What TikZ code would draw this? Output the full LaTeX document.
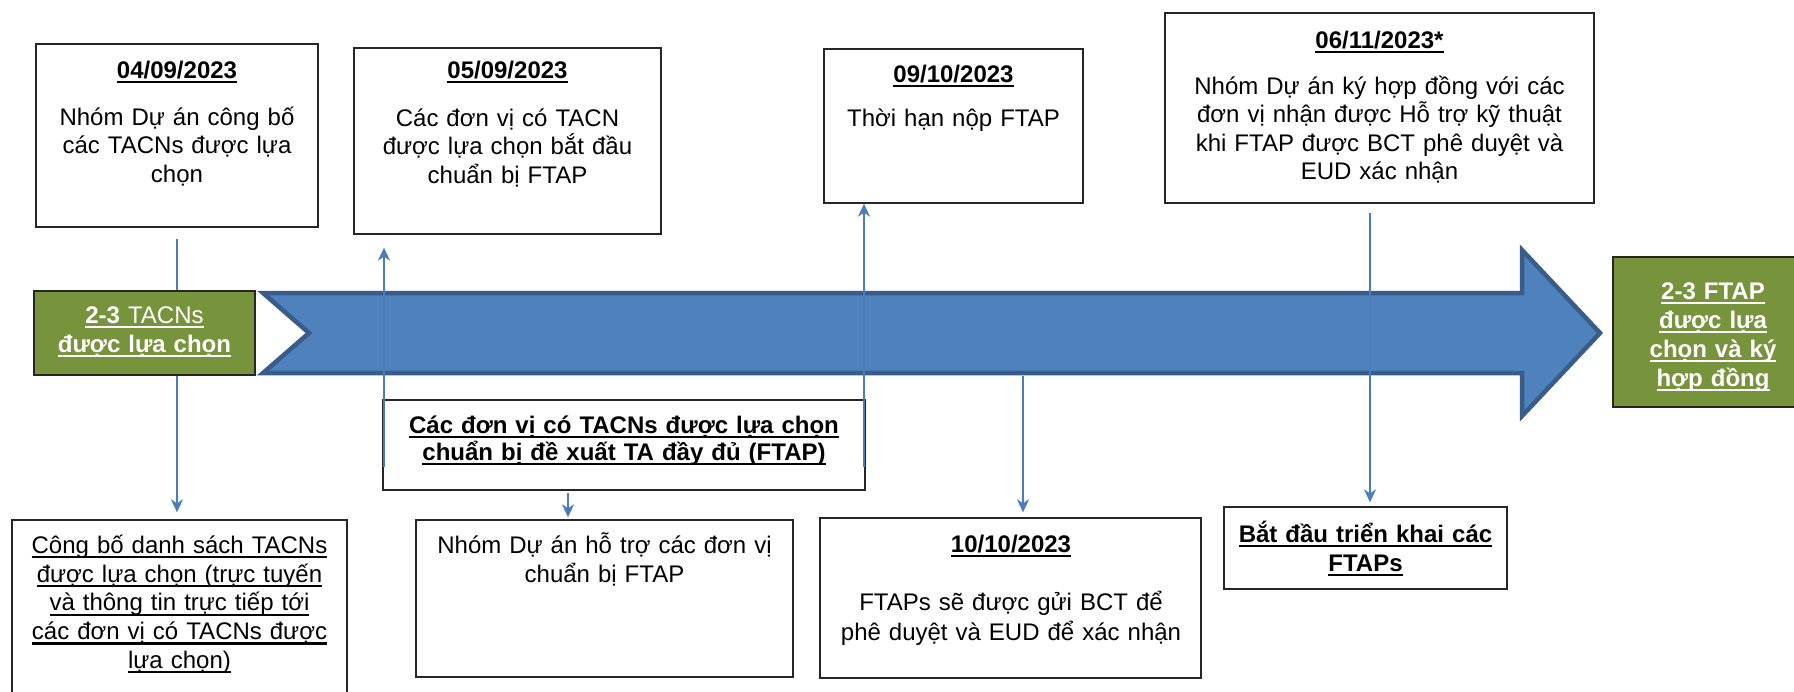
\documentclass[tikz,border=0pt]{standalone}
\usepackage{fontspec}
\setmainfont{Liberation Sans}
\usetikzlibrary{arrows.meta}
\definecolor{lnblue}{HTML}{4A7EBB}
\definecolor{arrfill}{HTML}{4F81BD}
\definecolor{arrdraw}{HTML}{385D8A}
\definecolor{grn}{HTML}{77933C}
\newsavebox{\myulbox}
\newcommand{\myul}[1]{\leavevmode\sbox{\myulbox}{#1}\rlap{\rule[-5pt]{\wd\myulbox}{2.2pt}}\usebox{\myulbox}}
\newcommand{\myfs}{\fontsize{24}{28.5}\selectfont}
\newcommand{\topst}{\rule{0pt}{23pt}}
\begin{document}
\begin{tikzpicture}[x=1pt,y=-1pt,
  bx/.style={draw=black!85, line width=1.3pt, fill=white, inner sep=0pt, rectangle},
  gbox/.style={draw=black!85, line width=1.3pt, fill=grn, inner sep=0pt, rectangle},
  bigarrow/.style={fill=arrfill, draw=arrdraw, line width=4.5pt, line join=miter},
  conn/.style={draw=lnblue, line width=2pt, -{Stealth[length=13pt,width=12pt,inset=4pt]}},
  txt/.style={inner sep=0pt, align=center, anchor=north, font=\myfs},
  dt/.style={inner sep=0pt, anchor=base, font=\myfs\bfseries},
]
\clip (0,0) rectangle (1794,691);
\fill[white] (0,0) rectangle (1794,691);

% big timeline arrow
\draw[bigarrow] (263,293) -- (1522,293) -- (1522,250) -- (1600,333) -- (1522,416) -- (1522,373) -- (263,373) -- (309,333) -- cycle;
\coordinate (arrbot) at (1023,376);

% top boxes
\node[bx, minimum width=282pt, minimum height=183pt] (b1) at (177,135.5) {};
\node[bx, minimum width=307pt, minimum height=186pt] (b2) at (507.5,141) {};
\node[bx, minimum width=259pt, minimum height=154pt] (b3) at (953.5,126) {};
\node[bx, minimum width=429pt, minimum height=190pt] (b4) at (1379.5,108) {};

% bottom boxes
\node[bx, minimum width=482pt, minimum height=90pt] (p1) at (624,445) {};
\node[bx, minimum width=377pt, minimum height=157pt] (p2) at (604.5,598.5) {};
\node[bx, minimum width=335pt, minimum height=200pt] (cb) at (179.5,620) {};
\node[bx, minimum width=381pt, minimum height=160pt] (b5) at (1010.5,598) {};
\node[bx, minimum width=283pt, minimum height=82pt] (b6) at (1365.5,548) {};

% connectors
\coordinate (u1s) at (384,467);
\coordinate (u2s) at (864,467);
\coordinate (d4s) at (1370,213);
\coordinate (p1s) at (568,493);
\draw[conn] ([yshift=-11pt]b1.south) -- ([yshift=7pt]b1.south |- cb.north);
\draw[conn] (u1s) -- ([yshift=-13pt]u1s |- b2.south);
\draw[conn] (u2s) -- (u2s |- b3.south);
\draw[conn] (p1s) -- ([yshift=2pt]p1s |- p2.north);
\draw[conn] (arrbot) -- ([yshift=5pt]arrbot |- b5.north);
\draw[conn] (d4s) -- ([yshift=4pt]d4s |- b6.north);

% green boxes
\node[gbox, minimum width=221pt, minimum height=84pt] (g1) at (144.5,333) {};
\node[gbox, minimum width=200pt, minimum height=150pt] (g2) at (1713,332) {};

% texts top
\node[dt] (d1) at (177,78) {\myul{04/09/2023}};
\node[txt, text width=270pt] (t1) at (177,102) {\topst Nhóm Dự án công bố\\các TACNs được lựa\\chọn};
\node[dt] (d2) at (507.5,78) {\myul{05/09/2023}};
\node[txt, text width=295pt] (t2) at (507.5,103) {\topst Các đơn vị có TACN\\được lựa chọn bắt đầu\\chuẩn bị FTAP};
\node[dt] (d3) at (953.5,82) {\myul{09/10/2023}};
\node[txt, text width=250pt] (t3) at (953.5,103) {\topst Thời hạn nộp FTAP};
\node[dt] (d4) at (1379.5,48) {\myul{06/11/2023*}};
\node[txt, text width=420pt] (t4) at (1379.5,71) {\topst Nhóm Dự án ký hợp đồng với các\\đơn vị nhận được Hỗ trợ kỹ thuật\\khi FTAP được BCT phê duyệt và\\EUD xác nhận};

% green texts
\node[txt, text width=215pt, text=white, font=\fontsize{24}{29}\selectfont] (tg1) at (144.5,300) {\topst\myul{\textbf{2-3} TACNs}\\\myul{\textbf{được lựa chọn}}};
\node[txt, text width=195pt, text=white, font=\fontsize{24}{29}\selectfont\bfseries] (tg2) at (1713,276) {\topst\myul{2-3 FTAP}\\\myul{được lựa}\\\myul{chọn và ký}\\\myul{hợp đồng}};

% bottom texts
\node[txt, text width=475pt, font=\fontsize{24}{27}\selectfont\bfseries] (tp1) at (624,410) {\topst\myul{Các đơn vị có TACNs được lựa chọn}\\\myul{chuẩn bị đề xuất TA đầy đủ (FTAP)}};
\node[txt, text width=370pt, font=\fontsize{24}{29}\selectfont] (tp2) at (604.5,530) {\topst Nhóm Dự án hỗ trợ các đơn vị\\chuẩn bị FTAP};
\node[txt, text width=330pt, font=\fontsize{24}{28.8}\selectfont] (tcb) at (179.5,530) {\topst\myul{Công bố danh sách TACNs}\\\myul{được lựa chọn (trực tuyến}\\\myul{và thông tin trực tiếp tới}\\\myul{các đơn vị có TACNs được}\\\myul{lựa chọn)}};
\node[dt] (d5) at (1011,552) {\myul{10/10/2023}};
\node[txt, text width=375pt, font=\fontsize{24}{30}\selectfont] (t5) at (1011,587) {\topst FTAPs sẽ được gửi BCT để\\phê duyệt và EUD để xác nhận};
\node[txt, text width=278pt, font=\fontsize{24}{29}\selectfont\bfseries] (t6) at (1365.5,519) {\topst\myul{Bắt đầu triển khai các}\\\myul{FTAPs}};
\end{tikzpicture}
\end{document}
